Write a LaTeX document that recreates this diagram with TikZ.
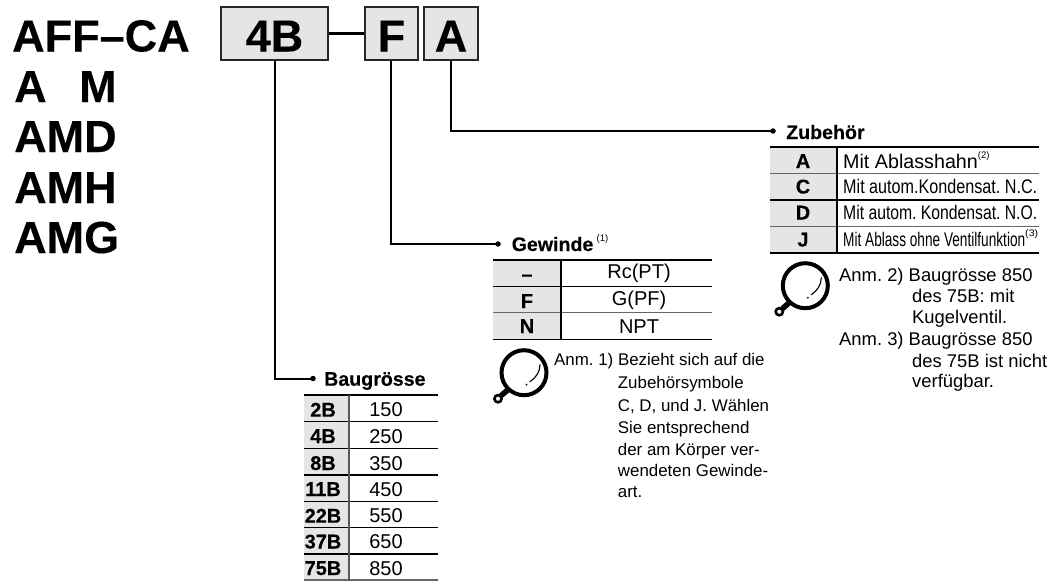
\documentclass[tikz,border=0pt]{standalone}
\usepackage{graphicx}
\usepackage{fontspec}
\setmainfont[BoldFeatures={FakeBold=0.2}]{Liberation Sans}
\frenchspacing
\newcommand{\fs}[1]{\fontsize{#1}{#1}\selectfont}
\newcommand{\supr}[1]{\raisebox{0.5em}{\fs{9.5}\mdseries(#1)}}
\newcommand{\fitw}[2]{\resizebox{#1}{\height}{#2}}
\tikzset{
  big/.style={inner sep=0pt,anchor=base west,font=\fs{45}\bfseries},
  bigbox/.style={draw=black!85,line width=2pt,fill=black!10,inner sep=0pt,font=\fs{45}\bfseries,text height=36pt,text depth=0pt,minimum height=53pt},
  conn/.style={line width=2pt,black},
  head/.style={inner sep=0pt,anchor=base west,font=\fs{19.6}\bfseries},
  note/.style={inner sep=0pt,anchor=base west,font=\fs{18.4}},
  notes/.style={inner sep=0pt,anchor=base west,font=\fs{16.9}},
  cola/.style={inner sep=0pt,anchor=base,font=\fs{20}\bfseries},
  colb/.style={inner sep=0pt,anchor=base,font=\fs{20}},
  cell/.style={inner sep=0pt,anchor=base west,font=\fs{19.7}},
  topline/.style={line width=2.2pt,black},
  rowk/.style={line width=1.2pt,black},
  rowg/.style={line width=1.4pt,black!60},
  dotmark/.style={circle,fill=black,inner sep=0pt,minimum size=5.5pt}
}
\newcommand{\magnifier}[2]{%
  \begin{scope}[shift={(#1,#2)}]
    \draw[line width=4pt] (0,0) circle (22.5);
    \draw[line width=5.5pt] (-16,17) -- (-23,23);
    \draw[line width=2.6pt,fill=white] (-26,26) circle (3.6);
    \draw[line width=1.1pt,line cap=round] (16,-8) .. controls (16,-1) and (12,5) .. (6,9);
    \fill (2.5,12) circle (1);
  \end{scope}}
\begin{document}
\begin{tikzpicture}[x=1pt,y=-1pt]
\useasboundingbox (0,0) rectangle (1056,581);
% title
\node[big] (t1) at (12,51.5) {AFF–CA};
\node[big] (t2) at (14,102) {A};
\node[big] (t3) at (79,102) {M};
\node[big] (t4) at (14,152) {AMD};
\node[big] (t5) at (14,203) {AMH};
\node[big] (t6) at (14,253) {AMG};
% code boxes
\node[bigbox,minimum width=107pt] (b4) at (274.5,33.5) {4B};
\node[bigbox,minimum width=53pt] (bF) at (391.5,33.5) {F};
\node[bigbox,minimum width=54pt] (bA) at (451,33.5) {A};
\draw[line width=3pt] (b4.east) -- (bF.west);
% heads with dots
\node[dotmark] (dB) at (313,378.5) {};
\node[dotmark] (dG) at (498,244) {};
\node[dotmark] (dZ) at (773,131) {};
\draw[conn] (b4.south) |- (dB.center);
\draw[conn] (bF.south) ++(-1,0) coordinate (fs) (fs) |- (dG.center);
\draw[conn] (bA.south) |- (dZ.center);
\node[head] (hB) at (324,385.7) {Baugrösse};
\node[head] (hG) at (511.5,251) {Gewinde\,\supr{1}};
\node[head] (hZ) at (786,139) {Zubehör};
% Baugroesse table
\fill[black!10] (303.5,395) rectangle (349,581);
\draw[topline] (303.5,395) -- (438,395);
\foreach \y in {421.7,448.3,475,501.7,527.5,554} \draw[rowk] (303.5,\y) -- (438,\y);
\draw[rowg] (303.5,580) -- (438,580);
\draw[line width=1.4pt,black!65] (349,395) -- (349,581);
\foreach \n/\k/\v/\y in {a/2B/150/416.7,b/4B/250/443,c/8B/350/470,d/11B/450/496,e/22B/550/522.7,f/37B/650/548.5,g/75B/850/575}{
  \node[cola] (bk\n) at (323,\y) {\k};
  \node[colb] (bv\n) at (386,\y) {\v};
}
% Gewinde table
\fill[black!10] (493,260) rectangle (561,339);
\draw[topline] (493,260) -- (712,260);
\draw[rowk] (493,286.7) -- (712,286.7);
\draw[rowg] (493,312.7) -- (712,312.7);
\draw[rowk] (493,339.3) -- (712,339.3);
\draw[line width=1.2pt] (561,260) -- (561,339.3);
\foreach \n/\k/\v/\y/\w in {a/–/Rc(PT)/281/278,b/F/G(PF)/308/305,c/N/NPT/333/333}{
  \node[cola] (gk\n) at (527,\y) {\k};
  \node[colb] (gv\n) at (639,\w) {\v};
}
% Gewinde note
\magnifier{524}{372.7}
\node[notes] (n1) at (554,365.7) {Anm. 1) Bezieht sich auf die};
\foreach \n/\t/\y in {a/Zubehörsymbole/388.5,b/{C, D, und J. Wählen}/411,c/Sie entsprechend/433,d/der am Körper ver-/455,e/wendeten Gewinde-/476.5,f/art./497.5}{
  \node[notes] (n1\n) at (617.7,\y) {\t};
}
% Zubehoer table
\fill[black!10] (770,147.3) rectangle (837,253);
\draw[topline] (770,147.3) -- (1039,147.3);
\draw[rowg] (770,173.3) -- (1039,173.3);
\draw[rowk] (770,200) -- (1039,200);
\draw[rowg] (770,226.7) -- (1039,226.7);
\draw[rowk] (770,253) -- (1039,253);
\draw[line width=1.2pt] (837,147.3) -- (837,253);
\foreach \n/\k/\y in {a/A/168,b/C/193.5,c/D/219.5,d/J/246.5}{
  \node[cola] (zk\n) at (803,\y) {\k};
}
\node[cell] (zva) at (843,168) {Mit Ablasshahn\supr{2}};
\node[cell] (zvb) at (843,193.5) {\fitw{194pt}{Mit autom.Kondensat. N.C.}};
\node[cell] (zvc) at (843,219.5) {\fitw{194pt}{Mit autom. Kondensat. N.O.}};
\node[cell] (zvd) at (843,246.5) {\fitw{182pt}{Mit Ablass ohne Ventilfunktion}\fitw{13pt}{\supr{3}}};
% Zubehoer notes
\magnifier{805.3}{285.7}
\node[note] (n2) at (839,281.7) {Anm. 2) Baugrösse 850};
\node[note] (n2a) at (912,302) {des 75B: mit};
\node[note] (n2b) at (912,323) {Kugelventil.};
\node[note] (n3) at (839,345) {Anm. 3) Baugrösse 850};
\node[note] (n3a) at (912,367) {des 75B ist nicht};
\node[note] (n3b) at (912,387) {verfügbar.};
\end{tikzpicture}
\end{document}
